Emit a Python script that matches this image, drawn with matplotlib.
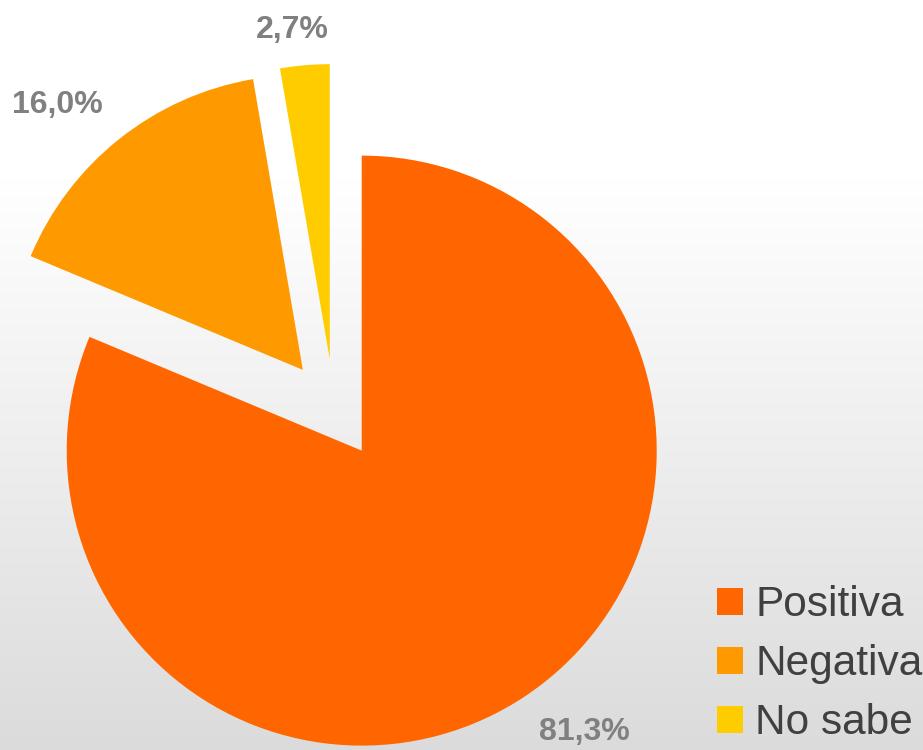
import matplotlib.pyplot as plt
import numpy as np

labels = ['Positiva', 'Negativa', 'No sabe']
values = [81.3, 16.0, 2.7]
colors = ['#FF6600', '#FF9900', '#FFCC00']

W, H = 923, 750
fig = plt.figure(figsize=(9.23, 7.5), dpi=100)

# background gradient: white on top, light gray at the bottom
bg = fig.add_axes([0, 0, 1, 1])
rows = np.linspace(0, 1, 300)
shade = np.clip((rows - 0.24) / 0.76, 0, 1)
grad = (1 - 0.14 * shade)[:, None]
img = np.dstack([grad, grad, grad]).repeat(2, axis=1)
bg.imshow(img, aspect='auto', extent=[0, 1, 0, 1], origin='upper')
bg.axis('off')

ax = fig.add_axes([0, 0, 1, 1])
ax.patch.set_alpha(0)


def fmt(p):
    return ('%.1f%%' % p).replace('.', ',')


wedges, texts, autotexts = ax.pie(values, colors=colors, startangle=90, counterclock=False,
                                  explode=[50, 50, 50], center=(334, 341), radius=295,
                                  autopct=fmt, pctdistance=1.2,
                                  wedgeprops=dict(linewidth=0))

# label placement like the original (outside end), relative to each wedge
lbl_dist = [1.217, 1.224, 1.122]
lbl_ang = [-51.6, 132.9, 96.5]
for w, t, d, a in zip(wedges, autotexts, lbl_dist, lbl_ang):
    cx, cy = w.center
    t.set_position((cx + d * w.r * np.cos(np.radians(a)),
                    cy + d * w.r * np.sin(np.radians(a))))
    t.set_color('#808080')
    t.set_fontsize(23)
    t.set_fontweight('bold')
    t.set_family('Liberation Sans')

ax.set_xlim(0, W)
ax.set_ylim(0, H)
ax.set_aspect('auto')
ax.axis('off')

leg = ax.legend(wedges, labels, loc='lower right', bbox_to_anchor=(1.027, -0.025),
                frameon=False, prop={'family': 'Liberation Sans', 'size': 30.5},
                handlelength=0.6, handleheight=0.6, handletextpad=0.3,
                labelspacing=0.45, borderaxespad=0.2)
for t in leg.get_texts():
    t.set_color('#404040')

fig.savefig('out.png', dpi=100)
